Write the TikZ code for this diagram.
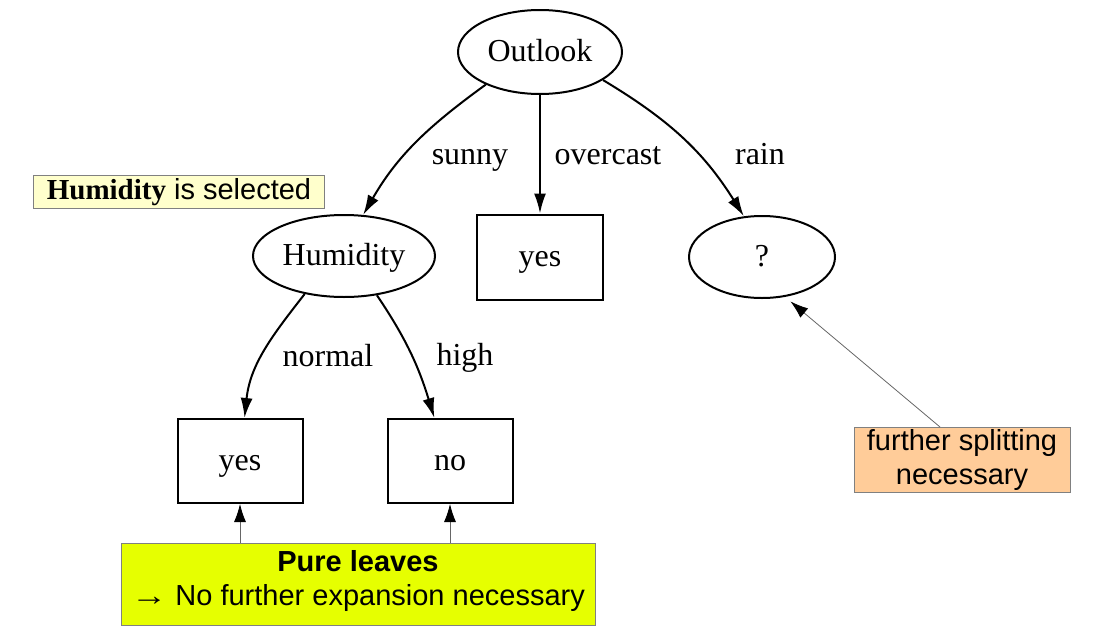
\documentclass[tikz,border=0pt]{standalone}
\usepackage{fontspec}
\setmainfont{Liberation Serif}
\setsansfont{Liberation Sans}
\usetikzlibrary{shapes.geometric,arrows.meta}

\definecolor{notepale}{HTML}{FFFFCC}
\definecolor{notelime}{HTML}{E6FF00}
\definecolor{notepeach}{HTML}{FFCC99}

\begin{document}
\begin{tikzpicture}
  [x=1pt,y=-1pt,
   treefont/.style={font=\fontsize{32}{38}\selectfont,text height=25pt,text depth=7pt},
   attr/.style={ellipse,draw,line width=2pt,inner sep=0pt,treefont},
   leaf/.style={rectangle,draw,line width=2pt,inner sep=0pt,minimum width=125pt,minimum height=84pt,treefont},
   lab/.style={inner sep=0pt,treefont},
   note/.style={rectangle,draw=gray,line width=1pt,inner sep=0pt,align=center,font=\sffamily\fontsize{29}{34}\selectfont},
   edge/.style={line width=2pt,-{Latex[length=20pt,width=12pt]}},
   hint/.style={line width=0.8pt,draw=black!60,-{Latex[length=18pt,width=12pt,color=black]}}]
  \useasboundingbox (0,0) rectangle (1097,629);

  \node[attr,minimum width=164pt,minimum height=84pt] (outlook) at (540,52)  {Outlook};
  \node[attr,minimum width=182pt,minimum height=82pt] (humid)   at (344,256) {Humidity};
  \node[leaf,minimum width=126pt,minimum height=85pt] (yesm)    at (540,257) {yes};
  \node[attr,minimum width=146pt,minimum height=82pt] (q)       at (762,257) {?};
  \node[leaf] (yesl) at (240,461) {yes};
  \node[leaf] (nol)  at (450,461) {no};

  \node[lab] (lsunny) at (470,155) {sunny};
  \node[lab] (lover)  at (608,155) {overcast};
  \node[lab] (lrain)  at (760,155) {rain};
  \node[lab] (lnorm)  at (328,357) {normal};
  \node[lab] (lhigh)  at (465,356) {high};

  \node[note,fill=notepale,minimum width=291pt,minimum height=33pt] (sel) at (179,192)
    {{\rmfamily\bfseries Humidity} is selected};
  \node[note,fill=notelime,minimum width=474pt,minimum height=82pt,text depth=12pt] (pure) at (358,584)
    {\textbf{Pure leaves}\\\scalebox{1.25}[1]{→} No further expansion necessary};
  \node[note,fill=notepeach,minimum width=216pt,minimum height=65pt] (further) at (962,460)
    {further splitting\\necessary};

  \foreach \from/\to/\o/\i in {outlook.211/humid.65/216/60,outlook.south/yesm.north/-90/90,
                              outlook.336/q.114/-31/122,humid.224/yesl.84/232/84,humid.310/nol.110/-56/107}
    \draw[edge] (\from) to[out=\o,in=\i] (\to);

  \draw[hint] (pure.north -| yesl.south) -- (yesl.south);
  \draw[hint] (pure.north -| nol.south) -- (nol.south);
  \draw[hint,shorten >=7pt] ([xshift=-22pt]further.north) -- (q.300);

\end{tikzpicture}
\end{document}
